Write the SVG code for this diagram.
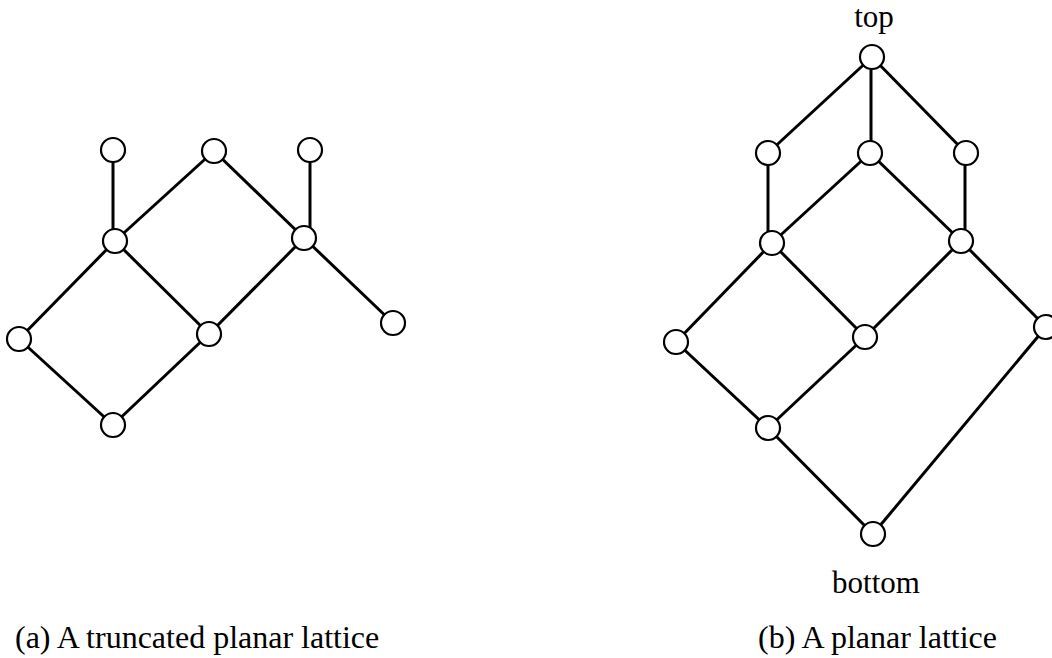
<svg xmlns="http://www.w3.org/2000/svg" width="1052" height="658" viewBox="0 0 1052 658">
<style>
.e{stroke:#000;stroke-width:3;fill:none}
.n{fill:#fff;stroke:#000;stroke-width:2.2}
.t{font-family:"Liberation Serif","Times New Roman",serif;font-size:31px;fill:#000}
</style>
<rect width="1052" height="658" fill="#fff"/>
<g id="connectors">
<line class="e" x1="113" y1="150" x2="113" y2="241"/>
<line class="e" x1="214" y1="151" x2="115" y2="241"/>
<line class="e" x1="214" y1="151" x2="304" y2="238"/>
<line class="e" x1="310" y1="150" x2="310" y2="238"/>
<line class="e" x1="115" y1="241" x2="19" y2="339"/>
<line class="e" x1="115" y1="241" x2="209" y2="334"/>
<line class="e" x1="304" y1="238" x2="209" y2="334"/>
<line class="e" x1="304" y1="238" x2="393" y2="323"/>
<line class="e" x1="19" y1="339" x2="113" y2="425"/>
<line class="e" x1="209" y1="334" x2="113" y2="425"/>
<line class="e" x1="872" y1="57" x2="768" y2="153"/>
<line class="e" x1="871" y1="57" x2="871" y2="153"/>
<line class="e" x1="872" y1="57" x2="966" y2="153"/>
<line class="e" x1="768" y1="153" x2="768" y2="243"/>
<line class="e" x1="870" y1="153" x2="772" y2="243"/>
<line class="e" x1="870" y1="153" x2="961" y2="241"/>
<line class="e" x1="965" y1="153" x2="965" y2="241"/>
<line class="e" x1="772" y1="243" x2="676" y2="342"/>
<line class="e" x1="772" y1="243" x2="865" y2="337"/>
<line class="e" x1="961" y1="241" x2="865" y2="337"/>
<line class="e" x1="961" y1="241" x2="1046" y2="327"/>
<line class="e" x1="676" y1="342" x2="768" y2="428"/>
<line class="e" x1="865" y1="337" x2="768" y2="428"/>
<line class="e" x1="768" y1="428" x2="873" y2="534"/>
<line class="e" x1="1046" y1="327" x2="873" y2="534"/>
</g>
<g id="a_tl"><circle class="n" cx="113" cy="150" r="12"/></g>
<g id="a_tm"><circle class="n" cx="214" cy="151" r="12"/></g>
<g id="a_tr"><circle class="n" cx="310" cy="150" r="12"/></g>
<g id="a_ml"><circle class="n" cx="115" cy="241" r="12"/></g>
<g id="a_mr"><circle class="n" cx="304" cy="238" r="12"/></g>
<g id="a_l"><circle class="n" cx="19" cy="339" r="12"/></g>
<g id="a_c"><circle class="n" cx="209" cy="334" r="12"/></g>
<g id="a_r"><circle class="n" cx="393" cy="323" r="12"/></g>
<g id="a_b"><circle class="n" cx="113" cy="425" r="12"/></g>
<g id="b_top"><circle class="n" cx="872" cy="57" r="12"/><text class="t" x="874" y="27" text-anchor="middle">top</text></g>
<g id="b_l"><circle class="n" cx="768" cy="153" r="12"/></g>
<g id="b_m"><circle class="n" cx="870" cy="153" r="12"/></g>
<g id="b_r"><circle class="n" cx="966" cy="153" r="12"/></g>
<g id="b_ml"><circle class="n" cx="772" cy="243" r="12"/></g>
<g id="b_mr"><circle class="n" cx="961" cy="241" r="12"/></g>
<g id="b_fl"><circle class="n" cx="676" cy="342" r="12"/></g>
<g id="b_c"><circle class="n" cx="865" cy="337" r="12"/></g>
<g id="b_fr"><circle class="n" cx="1046" cy="327" r="12"/></g>
<g id="b_low"><circle class="n" cx="768" cy="428" r="12"/></g>
<g id="b_bottom"><circle class="n" cx="873" cy="534" r="12"/><text class="t" x="876" y="593" text-anchor="middle">bottom</text></g>
<g id="captions">
<text class="t" x="15" y="648" style="font-size:32px">(a) A truncated planar lattice</text>
<text class="t" x="758" y="648" style="font-size:32px">(b) A planar lattice</text>
</g>
</svg>
